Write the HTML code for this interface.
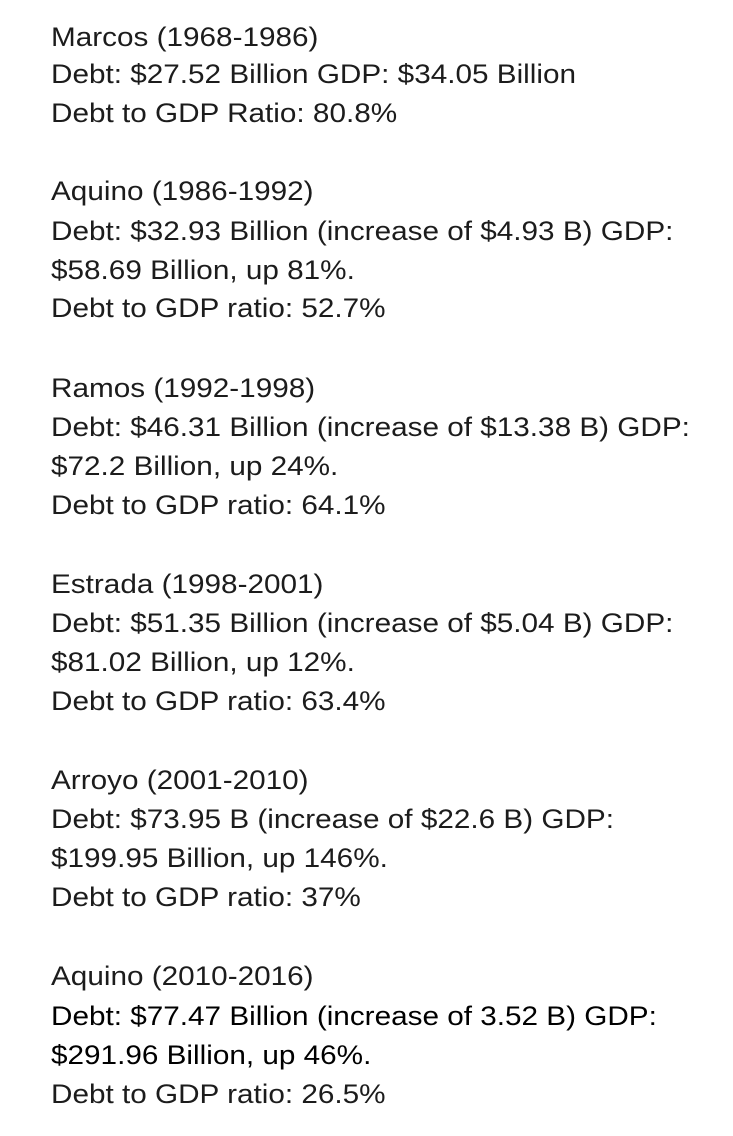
<!DOCTYPE html>
<html><head><meta charset="utf-8"><style>
html,body{margin:0;padding:0;background:#fff;width:733px;height:1136px;overflow:hidden}
.l{position:absolute;left:51px;font-family:"Liberation Sans",Arial,sans-serif;font-size:27px;line-height:30px;color:#1c1c1c;white-space:nowrap;transform:scaleX(1.10);transform-origin:0 50%}
.d{color:#000}
</style></head><body>
<div class="l" style="top:22px">Marcos (1968-1986)</div>
<div class="l" style="top:59px">Debt: $27.52 Billion GDP: $34.05 Billion</div>
<div class="l" style="top:98px">Debt to GDP Ratio: 80.8%</div>

<div class="l" style="top:176px">Aquino (1986-1992)</div>
<div class="l" style="top:216px">Debt: $32.93 Billion (increase of $4.93 B) GDP:</div>
<div class="l" style="top:255px">$58.69 Billion, up 81%.</div>
<div class="l" style="top:293px">Debt to GDP ratio: 52.7%</div>

<div class="l" style="top:373px">Ramos (1992-1998)</div>
<div class="l" style="top:412px">Debt: $46.31 Billion (increase of $13.38 B) GDP:</div>
<div class="l" style="top:451px">$72.2 Billion, up 24%.</div>
<div class="l" style="top:490px">Debt to GDP ratio: 64.1%</div>

<div class="l" style="top:569px">Estrada (1998-2001)</div>
<div class="l" style="top:608px">Debt: $51.35 Billion (increase of $5.04 B) GDP:</div>
<div class="l" style="top:647px">$81.02 Billion, up 12%.</div>
<div class="l" style="top:686px">Debt to GDP ratio: 63.4%</div>

<div class="l" style="top:765px">Arroyo (2001-2010)</div>
<div class="l" style="top:804px">Debt: $73.95 B (increase of $22.6 B) GDP:</div>
<div class="l" style="top:843px">$199.95 Billion, up 146%.</div>
<div class="l" style="top:882px">Debt to GDP ratio: 37%</div>

<div class="l" style="top:961px">Aquino (2010-2016)</div>
<div class="l d" style="top:1001px">Debt: $77.47 Billion (increase of 3.52 B) GDP:</div>
<div class="l d" style="top:1040px">$291.96 Billion, up 46%.</div>
<div class="l" style="top:1079px">Debt to GDP ratio: 26.5%</div>
</body></html>
